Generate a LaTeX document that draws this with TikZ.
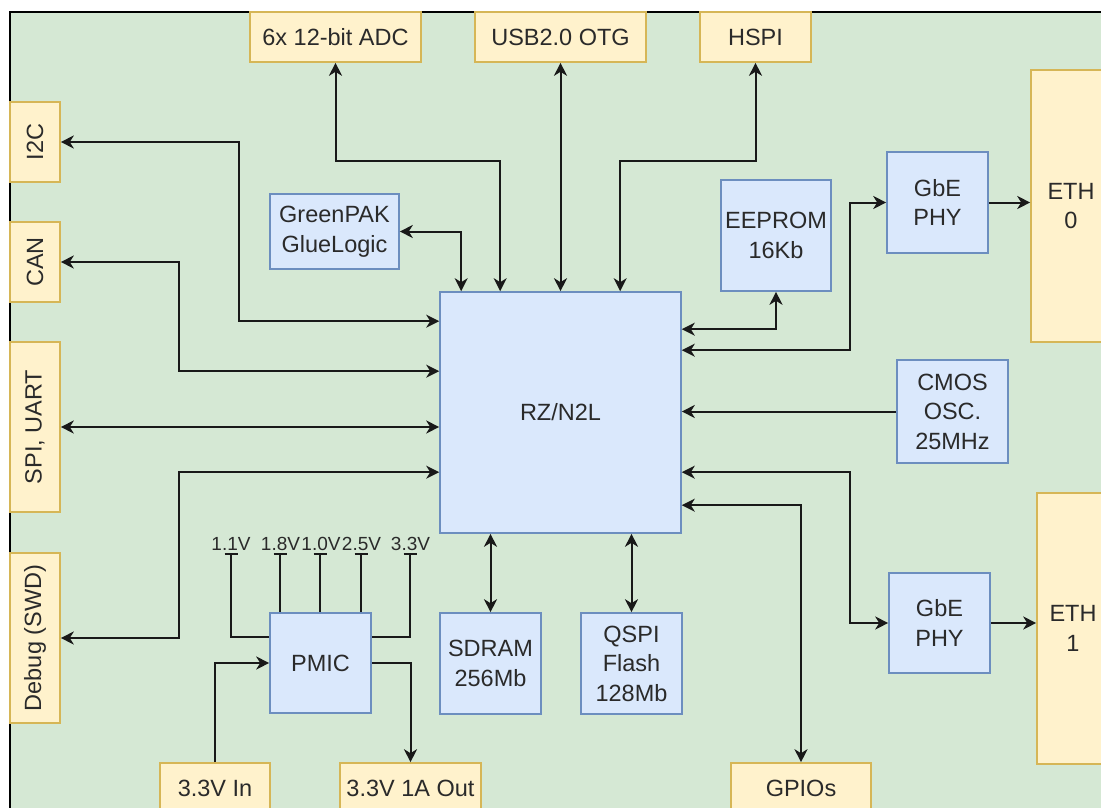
\documentclass[tikz,border=0pt]{standalone}
\usepackage{fontspec}
\setmainfont{Liberation Sans}
\usetikzlibrary{arrows.meta,calc}
\definecolor{bggreen}{HTML}{D5E8D4}
\definecolor{yfill}{HTML}{FFF2CC}
\definecolor{ydraw}{HTML}{D6B656}
\definecolor{bfill}{HTML}{DAE8FC}
\definecolor{bdraw}{HTML}{6C8EBF}
\definecolor{txtcol}{HTML}{2A2A2A}
\tikzset{
  ybox/.style={draw=ydraw, fill=yfill, line width=1.6pt, inner sep=0pt, align=center},
  bbox/.style={draw=bdraw, fill=bfill, line width=1.6pt, inner sep=0pt, align=center},
  conn/.style={draw=black!90, line width=2pt},
  dbl/.style={conn, <->},
  sgl/.style={conn, ->},
  rail/.style={conn, {Bar[width=13pt,line width=2pt]}-},
  vlab/.style={inner sep=0pt, anchor=base, font=\fontsize{19}{23}\selectfont},
  rtxt/.style={inner sep=0pt, rotate=90},
}
\begin{document}
\begin{tikzpicture}[x=1pt, y=-1pt, font=\fontsize{23.5}{29.5}\selectfont, text=txtcol,
  >={Stealth[length=13pt,width=13pt,inset=4pt]}]
\useasboundingbox (0,0) rectangle (1101,808);
\fill[white] (0,0) rectangle (1101,808);
\draw[fill=bggreen, line width=1.8pt] (10,12) rectangle (1140,850);

% yellow boxes
\node[ybox, minimum width=171pt, minimum height=50pt] (adc) at (335.5,37) {6x 12-bit ADC};
\node[ybox, minimum width=171pt, minimum height=50pt] (usb) at (560.5,37) {USB2.0 OTG};
\node[ybox, minimum width=111pt, minimum height=50pt] (hspi) at (755.5,37) {HSPI};
\node[ybox, minimum width=50pt, minimum height=80pt] (i2c) at (35,142) {};
\node[rtxt] (i2ct) at (i2c) {I2C};
\node[ybox, minimum width=50pt, minimum height=80pt] (can) at (35,262) {};
\node[rtxt] (cant) at (can) {CAN};
\node[ybox, minimum width=50pt, minimum height=170pt] (spi) at (35,427) {};
\node[rtxt] (spit) at (spi) {SPI, UART};
\node[ybox, minimum width=50pt, minimum height=170pt] (dbg) at (35,638) {};
\node[rtxt] (dbgt) at (dbg) {Debug (SWD)};
\node[ybox, minimum width=80pt, minimum height=272pt] (eth0) at (1071,206) {ETH\\0};
\node[ybox, minimum width=72pt, minimum height=271pt] (eth1) at (1073,628.5) {ETH\\1};
\node[ybox, minimum width=110pt, minimum height=50pt] (in33) at (215,788) {3.3V In};
\node[ybox, minimum width=141pt, minimum height=50pt] (out33) at (410.5,788) {3.3V 1A Out};
\node[ybox, minimum width=140pt, minimum height=50pt] (gpio) at (801,788) {GPIOs};

% blue boxes
\node[bbox, minimum width=241pt, minimum height=241pt] (rz) at (560.5,412.5) {RZ/N2L};
\node[bbox, minimum width=129pt, minimum height=75pt] (gp) at (334.5,231.5) {GreenPAK\\GlueLogic};
\node[bbox, minimum width=110pt, minimum height=111pt] (eep) at (776,235.5) {EEPROM\\16Kb};
\node[bbox, minimum width=101pt, minimum height=101pt] (phy0) at (937.5,202.5) {GbE\\PHY};
\node[bbox, minimum width=111pt, minimum height=103pt] (osc) at (952.5,411.5) {CMOS\\OSC.\\25MHz};
\node[bbox, minimum width=101pt, minimum height=100pt] (phy1) at (939.5,623) {GbE\\PHY};
\node[bbox, minimum width=101pt, minimum height=101pt] (sdram) at (490.5,663.5) {SDRAM\\256Mb};
\node[bbox, minimum width=101pt, minimum height=101pt] (qspi) at (631.5,663.5) {QSPI\\Flash\\128Mb};
\node[bbox, minimum width=101pt, minimum height=100pt] (pmic) at (320.5,663) {PMIC};

% top connectors
\draw[dbl] (adc.south) |- ($(rz.north west)+(61,-130)$) -- ($(rz.north west)+(61,0)$);
\draw[dbl] (usb.south) -- (usb.south |- rz.north);
\draw[dbl] (hspi.south) |- ($(rz.north west)+(181,-130)$) -- ($(rz.north west)+(181,0)$);
\draw[dbl] (gp.east) -| ($(rz.north west)+(22,0)$);

% left connectors
\draw[dbl] (i2c.east) -| ($(rz.north west)+(-200,30)$) -- ($(rz.north west)+(0,30)$);
\draw[dbl] (can.east) -| ($(rz.north west)+(-260,80)$) -- ($(rz.north west)+(0,80)$);
\draw[dbl] (spi.east) -- (spi.east -| rz.west);
\draw[dbl] (dbg.east) -| ($(rz.north west)+(-260,181)$) -- ($(rz.north west)+(0,181)$);

% right connectors
\draw[dbl] ($(rz.north east)+(0,38)$) -| (eep.south);
\draw[dbl] ($(rz.north east)+(0,59)$) -| ($(phy0.west)+(-36,0)$) -- (phy0.west);
\draw[sgl] (phy0.east) -- (phy0.east -| eth0.west);
\draw[sgl] (osc.west) -- (osc.west -| rz.east);
\draw[dbl] ($(rz.north east)+(0,181)$) -| ($(phy1.west)+(-38,0)$) -- (phy1.west);
\draw[sgl] (phy1.east) -- (phy1.east -| eth1.west);
\draw[dbl] ($(rz.north east)+(0,214)$) -| (gpio.north);

% bottom connectors
\draw[dbl] (sdram.north) -- (sdram.north |- rz.south);
\draw[dbl] (qspi.north) -- (qspi.north |- rz.south);
\draw[sgl] (in33.north) |- (pmic.west);
\draw[sgl] (pmic.east) -| (out33.north);

% PMIC rails
\coordinate (t11) at (231,553);
\coordinate (t18) at (280,553);
\coordinate (t10) at (320,553);
\coordinate (t25) at (361,553);
\coordinate (t33) at (410,553);
\node[vlab] (l11) at (231,550) {1.1V};
\node[vlab] (l18) at (280.5,550) {1.8V};
\node[vlab] (l10) at (321,550) {1.0V};
\node[vlab] (l25) at (361.5,550) {2.5V};
\node[vlab] (l33) at (410.5,550) {3.3V};
\draw[rail] (t11) |- ($(pmic.north west)+(0,25)$);
\draw[rail] (t18) -- (t18 |- pmic.north);
\draw[rail] (t10) -- (t10 |- pmic.north);
\draw[rail] (t25) -- (t25 |- pmic.north);
\draw[rail] (t33) |- ($(pmic.north east)+(0,25)$);
\end{tikzpicture}
\end{document}
